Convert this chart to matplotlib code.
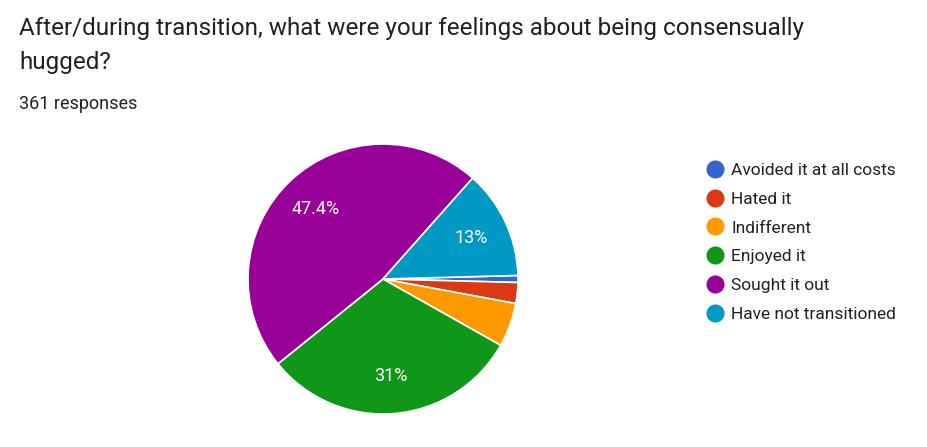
import matplotlib
matplotlib.use("Agg")
import matplotlib.pyplot as plt
from matplotlib.lines import Line2D

categories = ["Avoided it at all costs", "Hated it", "Indifferent", "Enjoyed it", "Sought it out", "Have not transitioned"]
counts = [3, 9, 19, 112, 171, 47]
colors = ["#3366cc", "#dc3912", "#ff9900", "#109618", "#990099", "#0099c6"]

plt.rcParams['font.family'] = ['Roboto', 'DejaVu Sans']
fig = plt.figure(figsize=(9.27, 4.47), dpi=100)
fig.text(19/927, 1-28/447, "After/during transition, what were your feelings about being consensually",
         fontsize=17.5, color="#202124", va="center")
fig.text(19/927, 1-63/447, "hugged?", fontsize=17.5, color="#202124", va="center")
fig.text(19/927, 1-104/447, "361 responses", fontsize=13, color="#202124", va="center")

ax = fig.add_axes([248/927, 168/447 - 135/447, 270/927, 270/447])

def fmt(p):
    if p < 10:
        return ""
    s = f"{p:.1f}"
    if s.endswith(".0"):
        s = s[:-2]
    return s + "%"

wedges, texts, autotexts = ax.pie(counts, colors=colors, startangle=1.5, counterclock=False,
                                  autopct=fmt, pctdistance=0.72,
                                  wedgeprops=dict(edgecolor="white", linewidth=1.2),
                                  textprops=dict(color="white", fontsize=13))
ax.set_xlim(-1, 1)
ax.set_ylim(-1, 1)
ax.set_aspect("equal")

handles = [Line2D([], [], marker="o", linestyle="", markersize=12, markerfacecolor=c,
                  markeredgecolor=c) for c in colors]
fig.legend(handles, categories, loc="upper left", bbox_to_anchor=(705/927, 1-163/447),
           frameon=False, fontsize=12.5, handletextpad=0.3, labelspacing=0.78,
           handlelength=1.2, labelcolor="#202124", borderaxespad=0, borderpad=0)
fig.savefig("out.png", dpi=100, facecolor="white")
